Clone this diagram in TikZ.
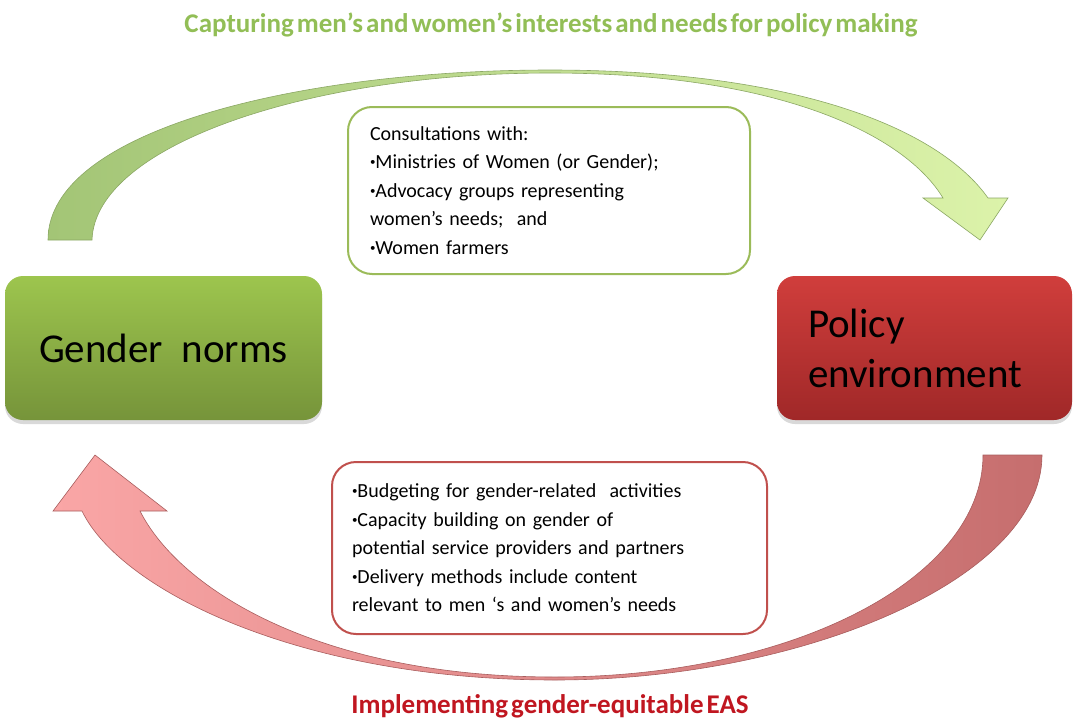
\documentclass[tikz,border=0pt]{standalone}
\usepackage{fontspec}
\setmainfont{Carlito}
\newfontfamily\titlefont[WordSpace=0.5]{Carlito}
\usetikzlibrary{shadows}

\definecolor{normgreen}{RGB}{157,197,78}
\definecolor{normgreendark}{RGB}{118,148,58}
\definecolor{policyred}{RGB}{208,62,60}
\definecolor{policyreddark}{RGB}{160,40,40}
\definecolor{linegreen}{RGB}{155,187,89}
\definecolor{linered}{RGB}{192,80,77}
\definecolor{titlegreen}{RGB}{146,190,86}
\definecolor{titlered}{RGB}{192,22,32}
\definecolor{arrowgreen}{RGB}{163,197,118}
\definecolor{arrowgreenlight}{RGB}{220,243,170}
\definecolor{arrowredlight}{RGB}{250,166,166}
\definecolor{arrowred}{RGB}{198,110,110}

\newcommand{\bul}{\raisebox{0.35ex}{\scalebox{0.55}{•}}}

\begin{document}
\begin{tikzpicture}%
                [x=1pt, y=-1pt,
                block/.style={rounded corners=18pt, minimum height=144pt, align=left,
                    font=\fontsize{41}{50}\selectfont,
                    drop shadow={shadow xshift=0pt, shadow yshift=-4pt, opacity=0.3}},
                notebox/.style={rounded corners=24pt, line width=2pt, fill=white, align=left,
                    font=\fontsize{20}{28.5}\selectfont},
                toptitle/.style={font=\titlefont\bfseries\fontsize{27}{32}\selectfont},
                upperarrow/.style={draw=arrowgreen!85!black, line width=0.6pt,
                    left color=arrowgreen, right color=arrowgreenlight},
                lowerarrow/.style={draw=arrowred!85!black, line width=0.6pt,
                    left color=arrowredlight, right color=arrowred}]

            \useasboundingbox (0,0) rectangle (1074,723);

            %% Titles
            \node[toptitle, text=titlegreen] (capture) at (551,25)
                {Capturing men’s and women’s interests and needs for policy making};
            \node[toptitle, text=titlered] (implement) at (550,706)
                {Implementing gender-equitable EAS};

            %% Curved arrows
            \draw[upperarrow] (48,240) .. controls (48,130) and (300,70) .. (550,70)
                .. controls (800,70) and (940,130) .. (988,198)
                -- (1008,198) -- (980,240) -- (923,198) -- (943,198)
                .. controls (905,135) and (780,73) .. (550,73)
                .. controls (310,73) and (95,145) .. (92,240) -- cycle;
            \draw[lowerarrow] (1042,455) .. controls (1042,580) and (800,680) .. (555,680)
                .. controls (300,680) and (120,590) .. (82,511)
                -- (53,511) -- (95,455) -- (167,511) -- (140,511)
                .. controls (180,590) and (320,677) .. (555,677)
                .. controls (790,677) and (983,580) .. (983,455) -- cycle;

            %% Main blocks
            \node[block, minimum width=317pt, top color=normgreen, bottom color=normgreendark]
                (norms) at (163.5,348) {Gender~~norms};
            \node[block, text width=233pt, inner xsep=31pt, top color=policyred, bottom color=policyreddark]
                (policy) at (924.5,348) {Policy\\environment};

            %% Text boxes
            \node[notebox, draw=linegreen, text width=358pt, inner xsep=22pt, minimum height=167pt]
                (consult) at (549,190.5)
                {Consultations with:\\
                 \bul Ministries of Women (or Gender);\\
                 \bul Advocacy groups representing\\
                 women’s needs;~~and\\
                 \bul Women farmers};
            \node[notebox, draw=linered, text width=395pt, inner xsep=20pt, minimum height=172pt]
                (budget) at (549.5,548)
                {\bul Budgeting for gender-related~~activities\\
                 \bul Capacity building on gender of\\
                 potential service providers and partners\\
                 \bul Delivery methods include content\\
                 relevant to men ‘s and women’s needs};
\end{tikzpicture}
\end{document}
